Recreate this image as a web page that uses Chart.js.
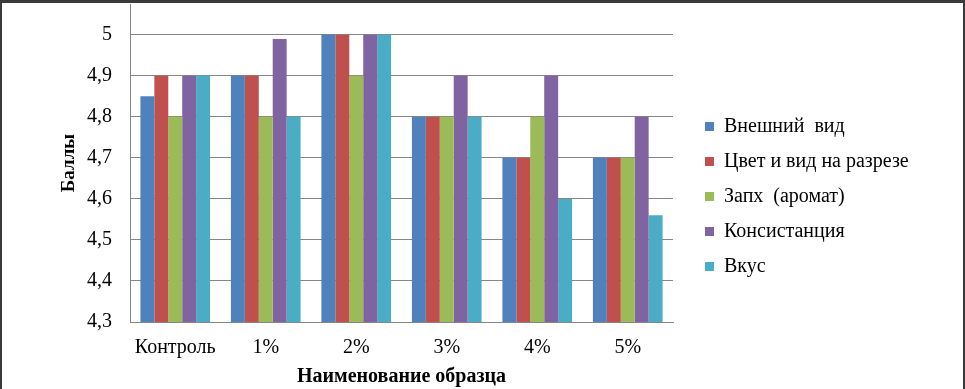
<!DOCTYPE html>
<html>
<head>
<meta charset="utf-8">
<script src="https://cdn.jsdelivr.net/npm/chart.js@4"></script>
<style>
    body { margin: 0; background: #fff; }
    .frame { position: relative; width: 965px; height: 389px; }
    .frame__border { position: absolute; left: 0; top: 0; right: 0; bottom: -5px; border: 2px solid #3a3a3a; border-top-width: 3px; pointer-events: none; }
</style>
</head>
<body>
<div class="frame">
    <canvas id="scoresChart" width="965" height="389"></canvas>
    <div class="frame__border"></div>
</div>
<script>
var categories = ['Контроль', '1%', '2%', '3%', '4%', '5%'];
var seriesNames = ['Внешний  вид', 'Цвет и вид на разрезе', 'Запх  (аромат)', 'Консистанция', 'Вкус'];
var appearance = [4.85, 4.9, 5, 4.8, 4.7, 4.7];
var colorCut = [4.9, 4.9, 5, 4.8, 4.7, 4.7];
var smell = [4.8, 4.8, 4.9, 4.8, 4.8, 4.7];
var consistency = [4.9, 4.99, 5, 4.9, 4.9, 4.8];
var taste = [4.9, 4.8, 5, 4.8, 4.6, 4.56];
var yTicks = [4.3, 4.4, 4.5, 4.6, 4.7, 4.8, 4.9, 5];

var colors = ['#4f81bd', '#c0504d', '#9bbb59', '#8064a2', '#4bacc6'];
var values = [appearance, colorCut, smell, consistency, taste];

document.addEventListener('DOMContentLoaded', function () {
    var serif = '"Liberation Serif", "Times New Roman", serif';
    var legendShift = 17;

    // push legend a bit away from the plot, like in the excel original
    var legendGap = {
        id: 'legendGap',
        afterInit: function (chart) {
            var fit = chart.legend.fit;
            chart.legend.fit = function () {
                fit.call(this);
                this.width += legendShift;
            };
        },
        afterLayout: function (chart) {
            chart.legend.left += legendShift;
            chart.legend.right += legendShift;
        }
    };

    var ctx = document.getElementById('scoresChart').getContext('2d');
    var myChart = new Chart(ctx, {
        type: 'bar',
        data: {
            labels: categories,
            datasets: values.map(function (data, i) {
                return {
                    label: seriesNames[i],
                    data: data,
                    backgroundColor: colors[i],
                    borderWidth: 0,
                    categoryPercentage: 0.77,
                    barPercentage: 1
                };
            })
        },
        plugins: [legendGap],
        options: {
            responsive: false,
            animation: false,
            layout: { padding: { left: 54, top: 4, right: 63, bottom: 0 } },
            plugins: {
                tooltip: { enabled: false },
                legend: {
                    position: 'right',
                    labels: {
                        boxWidth: 9,
                        boxHeight: 9,
                        padding: 15,
                        color: '#000',
                        font: { family: serif, size: 20 }
                    }
                }
            },
            scales: {
                x: {
                    afterFit: function (axis) {
                        axis.height = 67;
                    },
                    grid: { display: false, drawTicks: false },
                    border: { color: '#868686' },
                    ticks: { color: '#000', padding: 14, font: { family: serif, size: 20 } },
                    title: {
                        display: true,
                        text: 'Наименование образца',
                        color: '#000',
                        padding: { top: 0, bottom: 0 },
                        font: { family: serif, size: 20, weight: 'bold' }
                    }
                },
                y: {
                    min: 4.3,
                    max: 5.075,
                    afterBuildTicks: function (axis) {
                        axis.ticks = yTicks.map(function (v) { return { value: v }; });
                    },
                    afterFit: function (axis) {
                        axis.width = 76;
                        axis.paddingTop = 0;
                        axis.paddingBottom = 0;
                    },
                    grid: { color: '#868686', drawTicks: false },
                    border: { color: '#868686' },
                    ticks: {
                        color: '#000',
                        padding: 18,
                        font: { family: serif, size: 20 },
                        callback: function (v) { return String(v).replace('.', ','); }
                    },
                    title: {
                        display: true,
                        text: 'Баллы',
                        color: '#000',
                        padding: { top: 4, bottom: 4 },
                        font: { family: serif, size: 19, weight: 'bold' }
                    }
                }
            }
        }
    });
});
</script>
</body>
</html>
